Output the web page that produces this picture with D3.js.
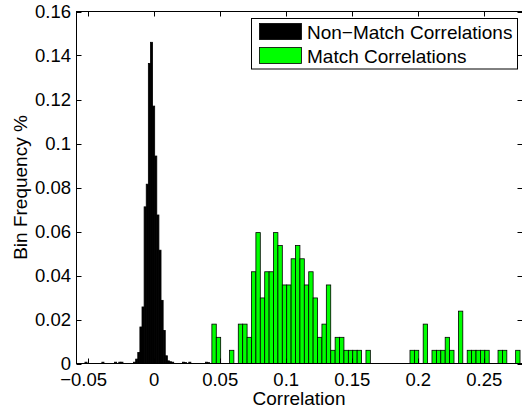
<!DOCTYPE html>
<html>
<head>
<meta charset="utf-8">
<script src="https://cdn.jsdelivr.net/npm/d3@7"></script>
<style>
    body { margin: 0; background: #fff; }
    svg { display: block; }
    text { font-family: "Liberation Sans", Arial, sans-serif; fill: #000; }
</style>
</head>
<body>
<svg class="chart"></svg>
<script>
(function() {
    'use strict';

    // non-match correlations: bin centres and frequencies
    var nonMatchBins = [-0.0516, -0.0388, -0.0292, -0.0260, -0.0244, -0.0148, -0.0132, -0.0116,
        -0.0100, -0.0084, -0.0068, -0.0052, -0.0036, -0.0020, -0.0004, 0.0012, 0.0028, 0.0044,
        0.0060, 0.0076, 0.0092, 0.0108, 0.0124, 0.0140, 0.0222, 0.0238, 0.0270, 0.0396, 0.0412];
    var nonMatchFreq = [0.0006, 0.0006, 0.0006, 0.0006, 0.0006, 0.0006, 0.0020, 0.0050,
        0.0166, 0.0257, 0.0712, 0.0815, 0.1364, 0.1460, 0.1170, 0.0943, 0.0675, 0.0515,
        0.0287, 0.0150, 0.0035, 0.0012, 0.0008, 0.0006, 0.0006, 0.0004, 0.0006, 0.0006, 0.0004];

    // match correlations: bin centres and frequencies
    var matchBins = [0.04537, 0.04870, 0.05870, 0.06537, 0.06870, 0.07203, 0.07537, 0.07870,
        0.08203, 0.08537, 0.08870, 0.09203, 0.09537, 0.09870, 0.10203, 0.10537, 0.10870,
        0.11203, 0.11537, 0.11870, 0.12203, 0.12537, 0.12870, 0.13203, 0.13537, 0.13870,
        0.14203, 0.14537, 0.14870, 0.15203, 0.15537, 0.16203, 0.19537, 0.19870, 0.20537,
        0.21203, 0.21537, 0.21870, 0.22203, 0.22537, 0.23203, 0.23870, 0.24203, 0.24537,
        0.24870, 0.25203, 0.26203, 0.26537, 0.27537];
    var matchFreq = [0.0179, 0.0119, 0.0060, 0.0179, 0.0179, 0.0119, 0.0417, 0.0595,
        0.0298, 0.0417, 0.0417, 0.0595, 0.0536, 0.0357, 0.0357, 0.0476, 0.0536,
        0.0476, 0.0357, 0.0417, 0.0298, 0.0119, 0.0179, 0.0357, 0.0060, 0.0119,
        0.0119, 0.0060, 0.0060, 0.0060, 0.0060, 0.0060, 0.0060, 0.0060, 0.0179,
        0.0060, 0.0060, 0.0060, 0.0119, 0.0060, 0.0238, 0.0060, 0.0060, 0.0060,
        0.0060, 0.0060, 0.0060, 0.0060, 0.0060];

    var xTicks = [-0.05, 0, 0.05, 0.1, 0.15, 0.2, 0.25];
    var xTickLabels = ['\u22120.05', '0', '0.05', '0.1', '0.15', '0.2', '0.25'];
    var yTicks = [0, 0.02, 0.04, 0.06, 0.08, 0.1, 0.12, 0.14, 0.16];
    var yTickLabels = ['0', '0.02', '0.04', '0.06', '0.08', '0.1', '0.12', '0.14', '0.16'];

    var seriesNames = ['Non\u2212Match Correlations', 'Match Correlations'];
    var seriesColors = ['#000000', '#00ff00'];

    var width = 522,
        height = 410,
        left = 76.5,
        right = 522.5,   // right edge of the box falls just off the picture
        top = 11.5,
        bottom = 363.5,
        tickFont = 18.5,
        labelFont = 19,
        tickLen = 5;

    var nonMatchWidth = 0.0016,
        matchWidth = 0.00333;

    var xScale = d3.scaleLinear()
        .domain([-0.0588, 0.2789])
        .range([left, right]);
    var yScale = d3.scaleLinear()
        .domain([0, 0.16])
        .range([bottom, top]);

    var chart = d3.select(".chart")
        .attr("width", width)
        .attr("height", height);

    function drawBars(cls, bins, freq, binWidth, color) {
        chart.append("g")
            .attr("class", cls)
            .selectAll("rect")
            .data(bins)
            .enter().append("rect")
            .attr("x", function(d) {
                return xScale(d - binWidth / 2);
            })
            .attr("y", function(d, i) {
                return yScale(freq[i]);
            })
            .attr("width", function(d) {
                return xScale(d + binWidth / 2) - xScale(d - binWidth / 2);
            })
            .attr("height", function(d, i) {
                return yScale(0) - yScale(freq[i]);
            })
            .attr("fill", color)
            .attr("stroke", "#000")
            .attr("stroke-width", 0.8);
    }

    drawBars("nonmatch", nonMatchBins, nonMatchFreq, nonMatchWidth, seriesColors[0]);
    drawBars("match", matchBins, matchFreq, matchWidth, seriesColors[1]);

    // box round the plot, matlab style
    var axes = chart.append("g")
        .attr("fill", "none")
        .attr("stroke", "#000")
        .attr("stroke-width", 1);

    axes.append("rect")
        .attr("x", left)
        .attr("y", top)
        .attr("width", right - left)
        .attr("height", bottom - top);

    // ticks point inwards on all four sides
    xTicks.forEach(function(t) {
        var x = Math.round(xScale(t)) + 0.5;
        axes.append("line").attr("x1", x).attr("x2", x)
            .attr("y1", bottom).attr("y2", bottom - tickLen);
        axes.append("line").attr("x1", x).attr("x2", x)
            .attr("y1", top).attr("y2", top + tickLen);
    });
    yTicks.forEach(function(t) {
        var y = Math.round(yScale(t)) + 0.5;
        axes.append("line").attr("x1", left).attr("x2", left + tickLen)
            .attr("y1", y).attr("y2", y);
        axes.append("line").attr("x1", right).attr("x2", right - tickLen)
            .attr("y1", y).attr("y2", y);
    });

    chart.append("g")
        .selectAll("text")
        .data(xTicks)
        .enter().append("text")
        .attr("x", function(d) { return xScale(d); })
        .attr("dx", function(d) { return d < 0 ? -4.5 : 0; })
        .attr("y", 386)
        .attr("text-anchor", "middle")
        .attr("font-size", tickFont)
        .text(function(d, i) { return xTickLabels[i]; });

    chart.append("g")
        .selectAll("text")
        .data(yTicks)
        .enter().append("text")
        .attr("x", 71)
        .attr("y", function(d) { return yScale(d); })
        .attr("dy", ".35em")
        .attr("text-anchor", "end")
        .attr("font-size", tickFont)
        .text(function(d, i) { return yTickLabels[i]; });

    chart.append("text")
        .attr("x", 299)
        .attr("y", 405)
        .attr("text-anchor", "middle")
        .attr("font-size", labelFont)
        .text("Correlation");

    chart.append("text")
        .attr("transform", "translate(27," + (top + bottom) / 2 + ") rotate(-90)")
        .attr("text-anchor", "middle")
        .attr("font-size", labelFont)
        .text("Bin Frequency %");

    // legend
    var legend = chart.append("g");
    legend.append("rect")
        .attr("x", 251.5).attr("y", 18.5)
        .attr("width", 266).attr("height", 50.5)
        .attr("fill", "#fff")
        .attr("stroke", "#000");

    seriesNames.forEach(function(name, i) {
        legend.append("rect")
            .attr("x", 259.5).attr("y", 23.5 + i * 24)
            .attr("width", 42).attr("height", 16)
            .attr("fill", seriesColors[i])
            .attr("stroke", "#000")
            .attr("stroke-width", 0.8);
        legend.append("text")
            .attr("x", 307)
            .attr("y", 38.5 + i * 24)
            .attr("font-size", labelFont)
            .text(name);
    });

})();
</script>
</body>
</html>
